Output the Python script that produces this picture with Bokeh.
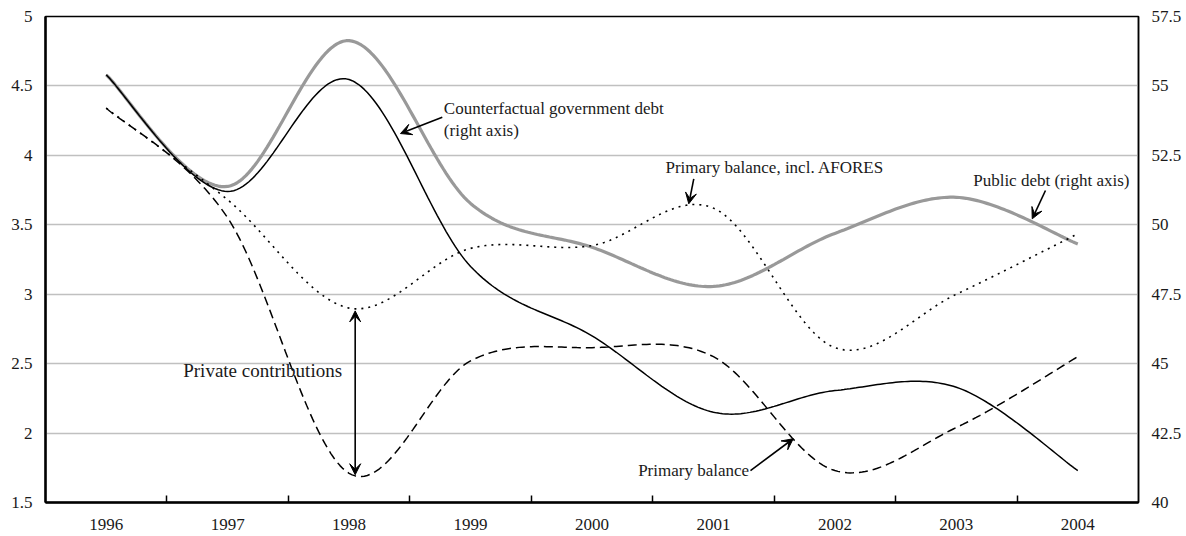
import numpy as np
from bokeh.plotting import figure
from bokeh.models import (Range1d, LinearAxis, FixedTicker, NumeralTickFormatter,
                          Label, Arrow, VeeHead)
from bokeh.embed import file_html
from bokeh.resources import INLINE

# ---------------- data ----------------
years = [1996, 1997, 1998, 1999, 2000, 2001, 2002, 2003, 2004]
# left axis (percent of GDP)
primary_balance = [4.34, 3.55, 1.71, 2.52, 2.615, 2.55, 1.73, 2.04, 2.55]
primary_balance_afores = [4.34, 3.68, 2.90, 3.33, 3.35, 3.62, 2.615, 3.00, 3.435]
# right axis
public_debt = [55.4, 51.38, 56.63, 50.77, 49.19, 47.78, 49.69, 50.99, 49.31]
counterfactual_debt = [55.4, 51.2, 55.23, 48.5, 46.0, 43.25, 44.03, 44.15, 41.15]

left_ticks = [1.5, 2, 2.5, 3, 3.5, 4, 4.5, 5]
right_ticks = [40, 42.5, 45, 47.5, 50, 52.5, 55, 57.5]

FONT = "Liberation Serif"
TXT = "#1a1a1a"


def smooth(xs, ys, n=40):
    """Excel-like smoothed line (Catmull-Rom style Bezier through the points)."""
    P = np.column_stack([np.asarray(xs, float), np.asarray(ys, float)])
    m = len(P)
    out = []
    for i in range(m - 1):
        p0 = P[i - 1] if i > 0 else P[i]
        p1 = P[i]
        p2 = P[i + 1]
        p3 = P[i + 2] if i + 2 < m else P[i + 1]
        c1 = p1 + (p2 - p0) / 6.0
        c2 = p2 - (p3 - p1) / 6.0
        t = np.linspace(0, 1, n, endpoint=(i == m - 2))[:, None]
        seg = ((1 - t) ** 3) * p1 + 3 * ((1 - t) ** 2) * t * c1 + 3 * (1 - t) * t ** 2 * c2 + t ** 3 * p2
        out.append(seg)
    arr = np.vstack(out)
    return arr[:, 0], arr[:, 1]


p = figure(width=1186, height=536, output_backend="svg", toolbar_location=None,
           x_range=Range1d(years[0] - 0.5, years[-1] + 0.5),
           y_range=Range1d(left_ticks[0], left_ticks[-1]),
           min_border_left=45, min_border_right=48, min_border_top=16, min_border_bottom=34)
p.extra_y_ranges = {"right": Range1d(right_ticks[0], right_ticks[-1])}
p.background_fill_color = "white"
p.border_fill_color = "white"
p.outline_line_color = "black"
p.outline_line_width = 1.5
p.outline_line_alpha = 1.0

# x axis: labels at year centres, short inward ticks at category boundaries
xa = p.xaxis[0]
xa.ticker = FixedTicker(ticks=years, minor_ticks=[y + 0.5 for y in years[:-1]])
xa.major_tick_in = 0
xa.major_tick_out = 0
xa.minor_tick_in = 7
xa.minor_tick_out = 0
xa.minor_tick_line_color = "black"
xa.minor_tick_line_width = 1.5
xa.axis_line_width = 2.5
xa.axis_line_color = "black"
xa.major_label_text_font = FONT
xa.major_label_text_font_size = "17px"
xa.major_label_text_color = TXT
xa.major_label_standoff = 16

ya = p.yaxis[0]
ya.ticker = FixedTicker(ticks=left_ticks)
ya.formatter = NumeralTickFormatter(format="0.[0]")
ya.major_tick_in = 0
ya.major_tick_out = 0
ya.minor_tick_in = 0
ya.minor_tick_out = 0
ya.axis_line_width = 2.5
ya.axis_line_color = "black"
ya.major_label_text_font = FONT
ya.major_label_text_font_size = "17px"
ya.major_label_text_color = TXT
ya.major_label_standoff = 13

ra = LinearAxis(y_range_name="right", ticker=FixedTicker(ticks=right_ticks),
                formatter=NumeralTickFormatter(format="0.[0]"))
ra.major_tick_in = 0
ra.major_tick_out = 0
ra.minor_tick_in = 0
ra.minor_tick_out = 0
ra.axis_line_width = 1.5
ra.axis_line_color = "black"
ra.major_label_text_font = FONT
ra.major_label_text_font_size = "17px"
ra.major_label_text_color = TXT
ra.major_label_standoff = 13
p.add_layout(ra, "right")

p.xgrid.grid_line_color = None
p.ygrid.ticker = FixedTicker(ticks=left_ticks)
p.ygrid.grid_line_color = "#c0c0c0"
p.ygrid.grid_line_width = 1.5

# ---------------- series ----------------
x, y = smooth(years, public_debt)
p.line(x, y, y_range_name="right", line_color="#999999", line_width=3.2)
x, y = smooth(years, counterfactual_debt)
p.line(x, y, y_range_name="right", line_color="black", line_width=1.5)
x, y = smooth(years, primary_balance_afores)
p.line(x, y, line_color="black", line_width=1.6, line_dash="2 5")
x, y = smooth(years, primary_balance)
p.line(x, y, line_color="black", line_width=1.5, line_dash="9 5")

# ---------------- annotations ----------------
def label(x, y, text, size="17px"):
    p.add_layout(Label(x=x, y=y, text=text, text_font=FONT, text_font_size=size,
                       text_color=TXT, text_align="left", text_baseline="middle"))


def arrow(x0, y0, x1, y1, both=False):
    kw = dict(end=VeeHead(size=11, fill_color="black", line_color="black", line_width=1),
              x_start=x0, y_start=y0, x_end=x1, y_end=y1,
              line_color="black", line_width=1.6)
    kw["start"] = VeeHead(size=11, fill_color="black", line_color="black", line_width=1) if both else None
    p.add_layout(Arrow(**kw))


label(1998.78, 4.337, "Counterfactual government debt")
label(1998.78, 4.179, "(right axis)")
arrow(1998.767, 4.275, 1998.423, 4.157)

label(2000.605, 3.915, "Primary balance, incl. AFORES")
arrow(2000.838, 3.831, 2000.797, 3.651)

label(2003.139, 3.819, "Public debt (right axis)")
arrow(2003.734, 3.747, 2003.625, 3.543)

label(1996.634, 2.451, "Private contributions", size="19px")
arrow(years[2] + 0.05, primary_balance_afores[2] - 0.02,
      years[2] + 0.05, primary_balance[2] - 0.01, both=True)

label(2000.38, 1.73, "Primary balance")
arrow(2001.305, 1.73, 2001.657, 1.959)

open("out.html", "w").write(file_html(p, INLINE))
